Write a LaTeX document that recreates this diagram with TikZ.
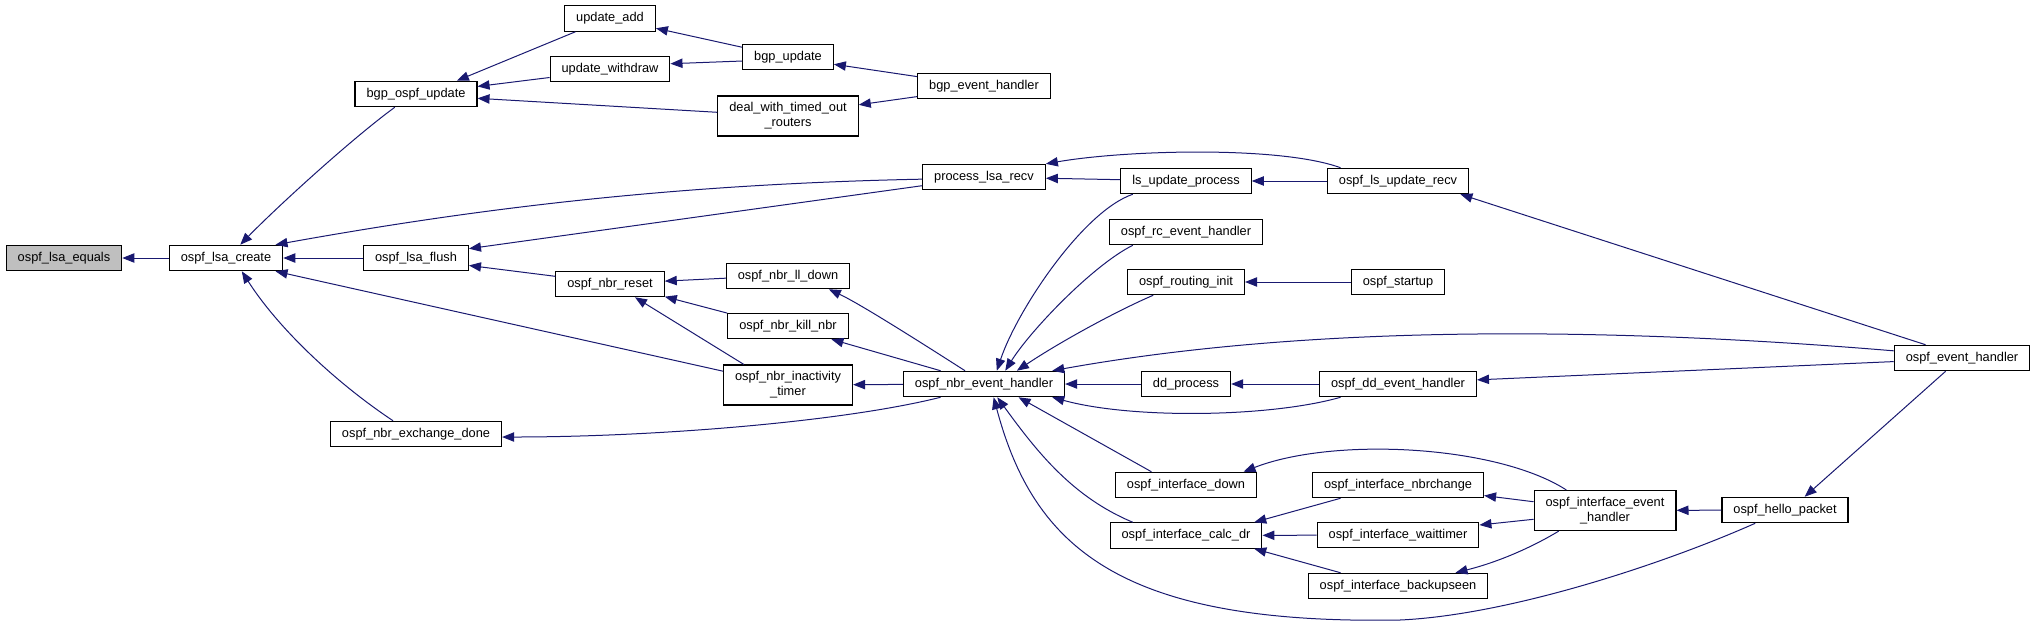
\documentclass[tikz,border=0pt]{standalone}
\usepackage{fontspec}
\setmainfont{Liberation Sans}
\usetikzlibrary{arrows.meta}
\definecolor{midnight}{HTML}{191970}
\definecolor{grey75}{HTML}{BFBFBF}

\begin{document}
\begin{tikzpicture}[
    x=0.75pt, y=-0.75pt,
    font=\fontsize{9.6}{11.25}\selectfont,
    func/.style={draw=black, line width=0.9pt, fill=white, align=center,
      minimum height=19pt, inner xsep=8.6pt, inner ysep=2pt},
    twoline/.style={func, minimum height=30pt},
    focus/.style={func, fill=grey75},
    call/.style={draw=midnight, line width=0.75pt, -{Triangle[length=9pt,width=7pt]}}
  ]
    \useasboundingbox (0,0) rectangle (2035,626);

    \node[focus] (eq) at (64,258) {ospf\_lsa\_equals};
    \node[func] (create) at (226,258) {ospf\_lsa\_create};

    \node[func] (bgpospf) at (416,94) {bgp\_ospf\_update};
    \node[func] (flush) at (416,258) {ospf\_lsa\_flush};
    \node[func] (exdone) at (416,434) {ospf\_nbr\_exchange\_done};

    \node[func] (uadd) at (610,18.5) {update\_add};
    \node[func] (uwd) at (610,69) {update\_withdraw};
    \node[func] (nreset) at (610,284) {ospf\_nbr\_reset};

    \node[func] (bgpupd) at (788,57) {bgp\_update};
    \node[twoline] (deal) at (788,116) {deal\_with\_timed\_out\\\_routers};
    \node[func] (lldown) at (788,276) {ospf\_nbr\_ll\_down};
    \node[func] (kill) at (788,326) {ospf\_nbr\_kill\_nbr};
    \node[twoline] (inact) at (788,385) {ospf\_nbr\_inactivity\\\_timer};

    \node[func] (bgpev) at (984,86) {bgp\_event\_handler};
    \node[func] (plsa) at (984,177) {process\_lsa\_recv};
    \node[func] (nbrev) at (984,384) {ospf\_nbr\_event\_handler};

    \node[func] (lsup) at (1186,181) {ls\_update\_process};
    \node[func] (rcev) at (1186,232) {ospf\_rc\_event\_handler};
    \node[func] (rinit) at (1186,282) {ospf\_routing\_init};
    \node[func] (ddproc) at (1186,384) {dd\_process};
    \node[func] (ifdown) at (1186,485) {ospf\_interface\_down};
    \node[func] (calcdr) at (1186,535.5) {ospf\_interface\_calc\_dr};

    \node[func] (lsrecv) at (1398,181) {ospf\_ls\_update\_recv};
    \node[func] (startup) at (1398,282) {ospf\_startup};
    \node[func] (ddev) at (1398,384) {ospf\_dd\_event\_handler};
    \node[func] (nbrch) at (1398,485) {ospf\_interface\_nbrchange};
    \node[func] (wait) at (1398,535) {ospf\_interface\_waittimer};
    \node[func] (backup) at (1398,586) {ospf\_interface\_backupseen};

    \node[twoline] (ifev) at (1605,510.5) {ospf\_interface\_event\\\_handler};
    \node[func] (hello) at (1785,510) {ospf\_hello\_packet};
    \node[func] (osev) at (1962,358) {ospf\_event\_handler};

    % callers on the right, arrow at the callee
    \draw[call] (create) -- (eq);
    \draw[call] (bgpospf.212) .. controls +(-45,33) and +(35,-36) .. (create.43);
    \draw[call] (plsa.182) .. controls +(-250,5) and +(200,-36) .. (create.15);
    \draw[call] (flush) -- (create);
    \draw[call] (inact.168) -- (create.345);
    \draw[call] (exdone.150) .. controls +(-60,-40) and +(35,55) .. (create.320);
    \draw[call] (uadd.201) -- (bgpospf.18);
    \draw[call] (uwd.188) -- (bgpospf.7);
    \draw[call] (deal.177) -- (bgpospf.356);
    \draw[call] (bgpupd.168) -- (uadd.348);
    \draw[call] (bgpupd.185) -- (uwd.5);
    \draw[call] (bgpev.172) -- (bgpupd.351);
    \draw[call] (bgpev.189) -- (deal.9);
    \draw[call] (plsa.188) -- (flush.10);
    \draw[call] (nreset.172) -- (flush.352);
    \draw[call] (lldown.182) -- (nreset.3);
    \draw[call] (kill.168) -- (nreset.347);
    \draw[call] (inact.155) -- (nreset.332);
    \draw[call] (nbrev.197) .. controls +(-100,25) and +(150,0) .. (exdone.358);
    \draw[call] (nbrev.145) .. controls +(-50,-32) and +(30,14) .. (lldown.342);
    \draw[call] (nbrev.163) -- (kill.343);
    \draw[call] (nbrev) -- (inact);
    \draw[call] (lsup) -- (plsa);
    \draw[call] (lsrecv.167) .. controls +(-60,-22) and +(80,-14) .. (plsa.12);
    \draw[call] (lsrecv) -- (lsup);
    \draw[call] (lsup.194) .. controls +(-50,17) and +(20,-60) .. (nbrev.46);
    \draw[call] (rcev.194) .. controls +(-40,20) and +(25,-40) .. (nbrev.32);
    \draw[call] (rinit.202) .. controls +(-35,15) and +(45,-30) .. (nbrev.22);
    \draw[call] (startup) -- (rinit);
    \draw[call] (osev.174) .. controls +(-300,-25) and +(250,-45) .. (nbrev.11);
    \draw[call] (ddproc) -- (nbrev);
    \draw[call] (ddev) -- (ddproc);
    \draw[call] (ddev.193) .. controls +(-70,20) and +(80,22) .. (nbrev.349);
    \draw[call] (osev.183) -- (ddev.3);
    \draw[call] (osev.160) -- (lsrecv.348);
    \draw[call] (ifdown.159) -- (nbrev.339);
    \draw[call] (calcdr.166) .. controls +(-60,-25) and +(40,55) .. (nbrev.315);
    \draw[call] (hello.204) .. controls +(-90,40) and +(110,-5) .. (1400,620)
      .. controls +(-280,5) and +(40,150) .. (nbrev.306);
    \draw[call] (ifev.152) .. controls +(-70,-45) and +(90,-35) .. (ifdown.13);
    \draw[call] (nbrch.193) -- (calcdr.11);
    \draw[call] (wait) -- (calcdr);
    \draw[call] (backup.167) -- (calcdr.349);
    \draw[call] (ifev.173) -- (nbrch.353);
    \draw[call] (ifev.187) -- (wait.7);
    \draw[call] (ifev.204) .. controls +(-30,18) and +(40,-10) .. (backup.13);
    \draw[call] (hello) -- (ifev);
    \draw[call] (osev.219) -- (hello.34);
  \end{tikzpicture}
\end{document}
